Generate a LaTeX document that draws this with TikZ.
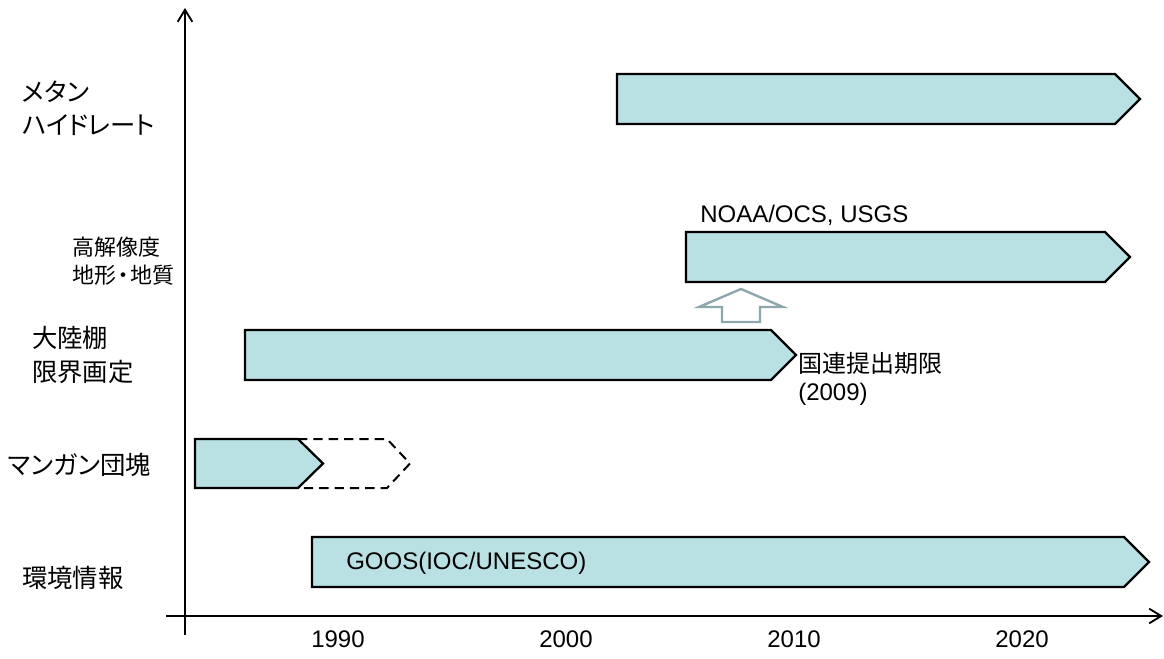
\documentclass[tikz,border=0pt]{standalone}
\usepackage{fontspec}
\setmainfont{Liberation Sans}
\newfontfamily\jp[RawFeature=+palt]{Noto Sans CJK JP}
\usetikzlibrary{arrows.meta}
\definecolor{barfill}{RGB}{185,224,227}
\definecolor{hollowline}{RGB}{140,168,172}
\tikzset{
  bar/.style={draw=black, fill=barfill, line width=1.7pt, line join=miter},
  planned/.style={draw=black, line width=1.5pt, dash pattern=on 7pt off 4.5pt},
  axis/.style={line width=1.6pt, -{Straight Barb[length=9pt,width=11pt,line width=1.4pt]}},
  biglbl/.style={anchor=west, inner sep=0pt, align=left, font=\jp\fontsize{19}{25}\selectfont},
  smalllbl/.style={anchor=west, inner sep=0pt, align=left, font=\jp\fontsize{16.5}{21}\selectfont},
  note/.style={anchor=west, inner sep=0pt, align=left, font=\fontsize{18}{21}\selectfont},
  year/.style={inner sep=0pt, font=\fontsize{18}{21}\selectfont},
}
% bar from #1 to the start of the tip at #2, top edge #3, bottom edge #4
\newcommand\timebar[4]{%
  \draw[bar] (#1,#3) -- (#2,#3) -- ({#2+25},{(#3+#4)/2}) -- (#2,#4) -- (#1,#4) -- cycle;}
\begin{document}
\begin{tikzpicture}[x=0.75pt,y=-0.75pt]
\useasboundingbox (0,0) rectangle (1164,659);

% axes
\coordinate (xstart) at (166,616);
\coordinate (xend) at (1163,616);
\coordinate (ystart) at (185,635);
\coordinate (yend) at (185,8);
\draw[axis] (xstart) -- (xend);
\draw[axis] (ystart) -- (yend);

% year labels
\node[year] (y1990) at (338,639) {1990};
\node[year] (y2000) at (566,639) {2000};
\node[year] (y2010) at (794,639) {2010};
\node[year] (y2020) at (1022,639) {2020};

% row labels
\node[biglbl, font=\jp\fontsize{19}{24.75}\selectfont] (methane) at (22,108) {メタン\\ハイドレート};
\node[smalllbl] (hires) at (72,261) {高解像度\\地形{\kern.08em}・{\kern.08em}地質};
\node[biglbl, font=\jp\fontsize{19}{26}\selectfont] (shelf) at (32,355) {大陸棚\\限界画定};
\node[biglbl] (mn) at (8,465) {マンガン団塊};
\node[biglbl] (env) at (22,578) {環境情報};

% time bars
\timebar{617}{1115}{74}{124}
\timebar{686}{1105}{232}{282}
\timebar{245}{771}{330}{380}
\draw[planned] (298,439) -- (387,439) -- (410,463.5) -- (387,488) -- (298,488);
\timebar{195}{298}{439}{488}
\timebar{312}{1124}{537}{587}

% notes
\node[note] (noaa) at (700,215) {NOAA/OCS, USGS};
\node[anchor=west, inner sep=0pt, align=left, font=\fontsize{18}{21}\selectfont] (deadline) at (798,379) {{\jp 国連提出期限}\\(2009)};
\node[note] (goos) at (346,563) {GOOS(IOC/UNESCO)};

% hollow up arrow between the shelf and high-resolution bars
\draw[draw=hollowline, fill=white, line width=1.8pt, line join=miter]
  (741,289) -- (783,307) -- (760,307) -- (760,322) -- (722,322) -- (722,307) -- (699,307) -- cycle;
\end{tikzpicture}
\end{document}
